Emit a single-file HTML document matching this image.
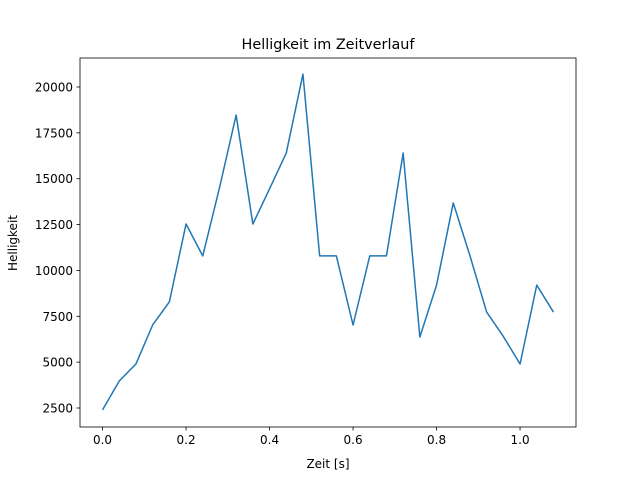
<!DOCTYPE html>
<html><head><meta charset="utf-8"><style>
body{margin:0;background:#fff;}
svg{display:block;font-family:"DejaVu Sans","Liberation Sans",sans-serif;}
</style></head><body>
<svg id="chart" width="640" height="480" xmlns="http://www.w3.org/2000/svg">
<rect width="640" height="480" fill="#fff"/>
<text x="328" y="49" font-size="14.4" text-anchor="middle">Helligkeit im Zeitverlauf</text>
<g id="ticks"></g>
<polyline id="line" fill="none" stroke="#1f77b4" stroke-width="1.5" stroke-linejoin="round"/>
<rect x="80" y="58" width="496" height="369" fill="none" stroke="#000" stroke-width="0.8"/>
<text x="328" y="468" font-size="12" text-anchor="middle">Zeit [s]</text>
<text transform="translate(17,243) rotate(-90)" font-size="12" text-anchor="middle">Helligkeit</text>
</svg>
<script>
const times=[0,0.04,0.08,0.12,0.16,0.2,0.24,0.28,0.32,0.36,0.4,0.44,0.48,0.52,0.56,0.6,0.64,0.68,0.72,0.76,0.8,0.84,0.88,0.92,0.96,1.0,1.04,1.08];
const brightness=[2400,3970,4900,7025,8280,12530,10790,14500,18470,12530,14450,16400,20700,10790,10790,7025,10790,10790,16400,6370,9200,13680,10800,7730,6400,4900,9200,7730];
const xTicks=[0,0.2,0.4,0.6,0.8,1.0];
const xTickLabels=["0.0","0.2","0.4","0.6","0.8","1.0"];
const yTicks=[2500,5000,7500,10000,12500,15000,17500,20000];
const X0=80,X1=576,Y0=427,Y1=58,xmin=-0.054,xmax=1.134,ymin=1464,ymax=21581;
const sx=v=>X0+(v-xmin)/(xmax-xmin)*(X1-X0);
const sy=v=>Y0-(v-ymin)/(ymax-ymin)*(Y0-Y1);
const NS="http://www.w3.org/2000/svg";
const g=document.getElementById('ticks');
function mk(t,a){const e=document.createElementNS(NS,t);for(const k in a)e.setAttribute(k,a[k]);g.appendChild(e);return e;}
xTicks.forEach((v,i)=>{
 const l=mk('line',{x1:sx(v),x2:sx(v),y1:Y0,y2:Y0+3.5,stroke:'#000','stroke-width':0.8});
 
 
 const t=mk('text',{x:sx(v),y:Y0+17,'font-size':12,'text-anchor':'middle'});t.textContent=xTickLabels[i];
 
 
});
yTicks.forEach(v=>{
 const l=mk('line',{x1:X0-3.5,x2:X0,y1:sy(v),y2:sy(v),stroke:'#000','stroke-width':0.8});
 
 
 const t=mk('text',{x:X0-7,y:sy(v)+4.5,'font-size':12,'text-anchor':'end'});t.textContent=String(v);
 
 
});
document.getElementById('line').setAttribute('points',times.map((t,i)=>sx(t)+','+sy(brightness[i])).join(' '));
</script>
</body></html>
